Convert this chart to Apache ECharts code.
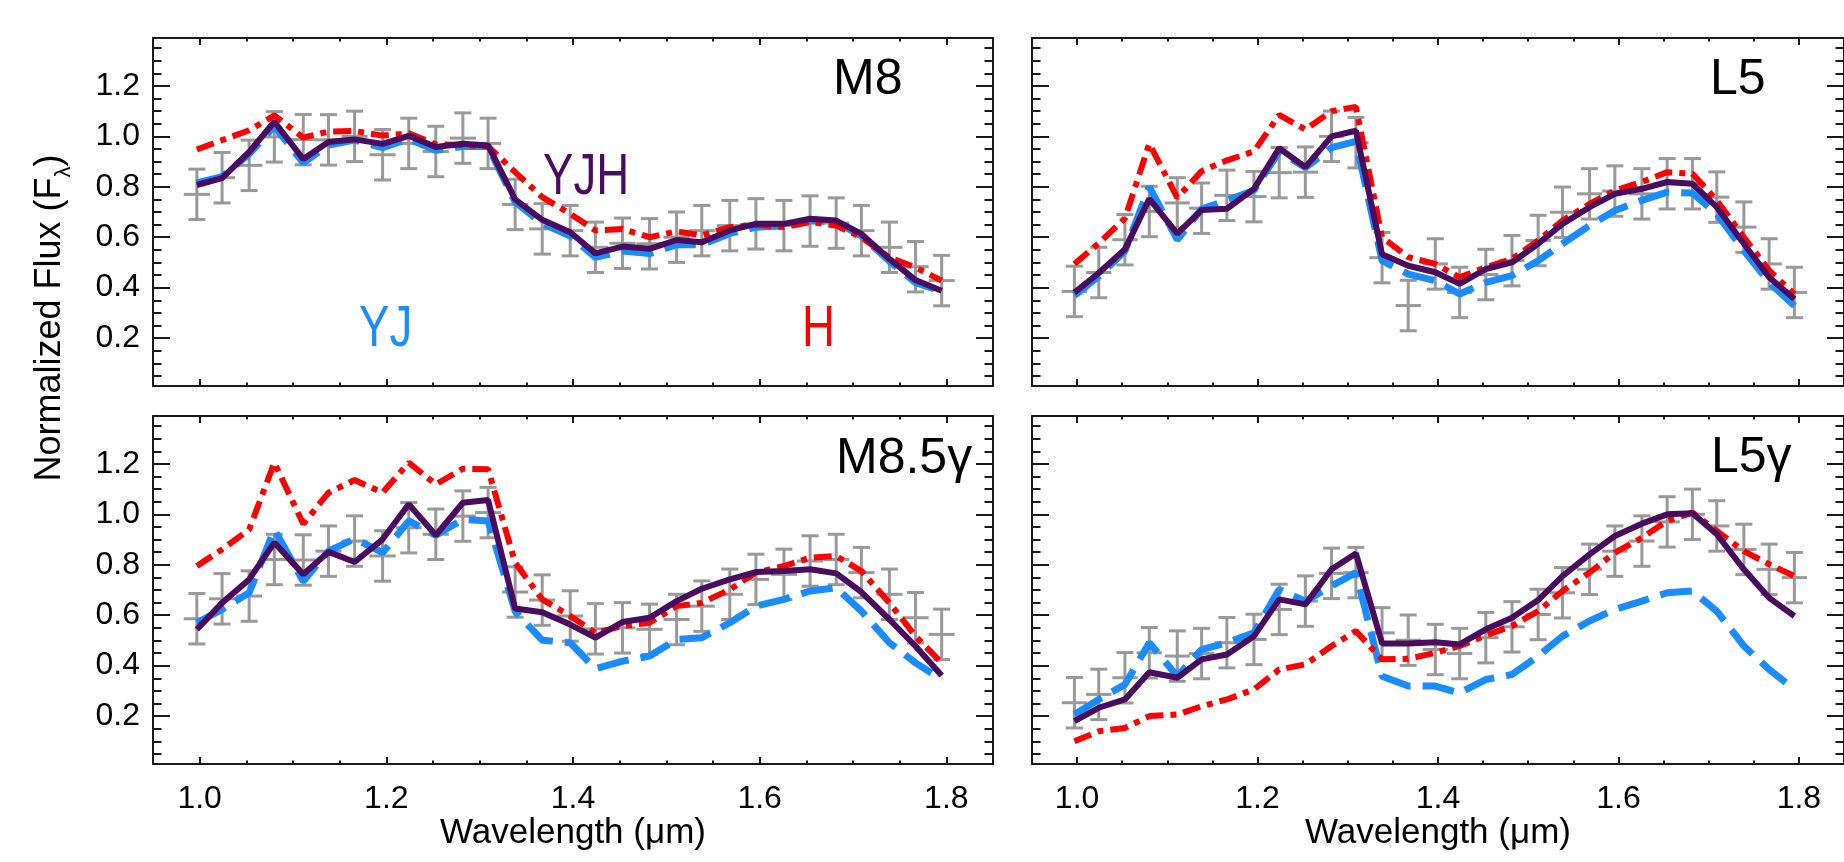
<!DOCTYPE html>
<html>
<head>
<meta charset="utf-8">
<script src="https://cdn.jsdelivr.net/npm/echarts@6/dist/echarts.min.js"></script>
<style>
html,body{margin:0;padding:0;background:#fff;}
#chart{width:1844px;height:862px;}
</style>
</head>
<body>
<div id="chart"></div>
<script>
// wavelength grid (um), same for the data points and the three fits
var wave = [0.997,1.024,1.053,1.080,1.111,1.138,1.166,1.196,1.224,1.253,1.282,1.309,1.338,1.367,1.397,
            1.424,1.453,1.482,1.511,1.538,1.568,1.596,1.626,1.654,1.682,1.709,1.739,1.767,1.795];
var waveErr = 0.014;
var fluxErr = 0.1;

// M8
var m8Obs = [0.770,0.836,0.885,0.998,0.987,0.986,1.000,0.927,0.972,0.940,0.993,0.972,0.730,0.633,0.626,0.560,0.576,0.574,0.600,0.626,0.646,0.653,0.646,0.664,0.656,0.626,0.560,0.483,0.428];
var m8YJH = [0.807,0.834,0.938,1.058,0.910,0.978,0.988,0.970,1.002,0.958,0.971,0.964,0.750,0.669,0.620,0.536,0.563,0.554,0.589,0.580,0.627,0.653,0.653,0.673,0.666,0.613,0.514,0.430,0.388];
var m8YJ  = [0.815,0.840,0.930,1.040,0.895,0.965,0.985,0.955,0.990,0.945,0.960,0.960,0.740,0.655,0.605,0.520,0.545,0.535,0.570,0.570,0.615,0.640,0.645,0.665,0.660,0.605,0.505,0.420,0.385];
var m8H   = [0.948,0.985,1.024,1.083,0.995,1.019,1.021,1.003,1.012,0.968,0.966,0.960,0.858,0.759,0.693,0.627,0.633,0.600,0.623,0.607,0.640,0.649,0.640,0.660,0.646,0.600,0.520,0.480,0.428];
// L5
var l5Obs = [0.385,0.460,0.590,0.702,0.736,0.715,0.766,0.761,0.856,0.858,1.000,0.975,0.519,0.329,0.494,0.381,0.452,0.507,0.587,0.699,0.772,0.783,0.772,0.812,0.812,0.759,0.640,0.494,0.381];
var l5YJH = [0.380,0.458,0.552,0.752,0.614,0.708,0.713,0.792,0.953,0.878,1.000,1.022,0.532,0.487,0.461,0.415,0.474,0.500,0.574,0.653,0.719,0.772,0.792,0.819,0.812,0.719,0.574,0.441,0.355];
var l5YJ  = [0.369,0.445,0.545,0.800,0.590,0.712,0.746,0.786,0.940,0.876,0.955,0.980,0.507,0.454,0.428,0.375,0.421,0.448,0.507,0.574,0.646,0.706,0.746,0.779,0.775,0.693,0.547,0.421,0.328];
var l5H   = [0.494,0.576,0.675,0.971,0.757,0.862,0.905,0.940,1.085,1.027,1.100,1.117,0.600,0.521,0.494,0.441,0.481,0.514,0.587,0.666,0.732,0.785,0.819,0.858,0.852,0.746,0.600,0.468,0.375];
// M8.5 gamma
var m85Obs = [0.586,0.665,0.676,0.821,0.819,0.854,0.894,0.835,0.947,0.921,0.993,1.007,0.692,0.660,0.597,0.546,0.550,0.544,0.583,0.636,0.683,0.742,0.762,0.815,0.821,0.769,0.683,0.590,0.524];
var m85YJH = [0.544,0.649,0.742,0.888,0.762,0.851,0.811,0.901,1.040,0.917,1.046,1.057,0.627,0.612,0.563,0.511,0.573,0.590,0.656,0.705,0.742,0.771,0.775,0.782,0.766,0.692,0.583,0.477,0.361];
var m85YJ  = [0.570,0.623,0.689,0.940,0.735,0.854,0.903,0.848,0.974,0.917,0.980,0.974,0.616,0.501,0.491,0.388,0.418,0.438,0.504,0.511,0.570,0.636,0.663,0.696,0.709,0.616,0.491,0.411,0.345];
var m85H   = [0.795,0.861,0.940,1.205,0.962,1.086,1.136,1.086,1.205,1.119,1.181,1.179,0.808,0.663,0.597,0.530,0.557,0.570,0.636,0.649,0.702,0.769,0.795,0.828,0.835,0.775,0.649,0.517,0.411];
// L5 gamma
var l5gObs = [0.253,0.286,0.352,0.451,0.438,0.448,0.491,0.504,0.623,0.656,0.766,0.769,0.530,0.501,0.464,0.448,0.511,0.554,0.603,0.689,0.782,0.854,0.894,0.970,1.000,0.954,0.861,0.782,0.749];
var l5gYJH = [0.180,0.233,0.266,0.374,0.352,0.425,0.444,0.517,0.663,0.643,0.782,0.845,0.488,0.488,0.493,0.484,0.544,0.590,0.660,0.755,0.841,0.914,0.963,1.000,1.004,0.921,0.782,0.669,0.597];
var l5gYJ  = [0.206,0.266,0.325,0.491,0.358,0.464,0.491,0.530,0.702,0.656,0.716,0.769,0.358,0.319,0.319,0.292,0.345,0.365,0.438,0.517,0.577,0.623,0.656,0.689,0.696,0.616,0.478,0.385,0.306];
var l5gH   = [0.100,0.140,0.153,0.200,0.206,0.239,0.266,0.306,0.385,0.405,0.478,0.537,0.425,0.427,0.451,0.478,0.520,0.557,0.616,0.696,0.769,0.848,0.907,0.974,1.007,0.934,0.854,0.802,0.755];

var xMajor = [1.0,1.2,1.4,1.6,1.8];
var xMinor = [1.05,1.1,1.15,1.25,1.3,1.35,1.45,1.5,1.55,1.65,1.7,1.75];
var yMajor = [0.2,0.4,0.6,0.8,1.0,1.2];
var yMinor = [0.05,0.1,0.15,0.25,0.3,0.35,0.45,0.5,0.55,0.65,0.7,0.75,0.85,0.9,0.95,1.05,1.1,1.15,1.25,1.3,1.35];

var FONT = "'Liberation Sans', Arial, Helvetica, sans-serif";
var AXIS_COLOR = '#1a1a1a';
var PURPLE = '#4a0c5e', BLUE = '#1a8cff', RED = '#ff0000', GREY = '#999999';

var panels = [
	{label:'M8',    obs:m8Obs,  yjh:m8YJH,  yj:m8YJ,  h:m8H,  left:153,  top:38,  xLab:false, yLab:true},
	{label:'L5',    obs:l5Obs,  yjh:l5YJH,  yj:l5YJ,  h:l5H,  left:1032, top:38,  xLab:false, yLab:false},
	{label:'M8.5γ', obs:m85Obs, yjh:m85YJH, yj:m85YJ, h:m85H, left:153,  top:416, xLab:true,  yLab:true},
	{label:'L5γ',   obs:l5gObs, yjh:l5gYJH, yj:l5gYJ, h:l5gH, left:1032, top:416, xLab:true,  yLab:false}
];

var grids = [], xAxes = [], yAxes = [], series = [];

function pairs(arr){
	var out = [];
	for(var k=0;k<wave.length;k++){ out.push([wave[k], arr[k]]); }
	return out;
}

function xAxis(gi, pos, ticks, len, line, lab){
	return {
		gridIndex: gi, type: 'value', min: 0.95, max: 1.85, position: pos,
		axisLine: {show: line, onZero: false, lineStyle: {color: AXIS_COLOR, width: 2}},
		axisTick: {show: true, inside: true, length: len, customValues: ticks, lineStyle: {color: AXIS_COLOR, width: 2}},
		axisLabel: {show: lab, customValues: ticks, margin: 19, fontSize: 32, fontFamily: FONT, color: '#000',
			formatter: function(v){ return v.toFixed(1); }},
		splitLine: {show: false},
		name: lab ? 'Wavelength (μm)' : '', nameLocation: 'middle', nameGap: 50,
		nameTextStyle: {fontSize: 35, fontFamily: FONT, color: '#000'}
	};
}

function yAxis(gi, pos, ticks, len, line, lab){
	return {
		gridIndex: gi, type: 'value', min: 0.01, max: 1.39, position: pos,
		axisLine: {show: line, onZero: false, lineStyle: {color: AXIS_COLOR, width: 2}},
		axisTick: {show: true, inside: true, length: len, customValues: ticks, lineStyle: {color: AXIS_COLOR, width: 2}},
		axisLabel: {show: lab, customValues: ticks, margin: 13, fontSize: 32, fontFamily: FONT, color: '#000',
			formatter: function(v){ return v.toFixed(1); }},
		splitLine: {show: false}
	};
}

function errorBars(params, api){
	var x = api.value(0), y = api.value(1);
	var top = api.coord([x, y + fluxErr]);
	var bot = api.coord([x, y - fluxErr]);
	var lft = api.coord([x - waveErr, y]);
	var rgt = api.coord([x + waveErr, y]);
	var st = {stroke: GREY, lineWidth: 3};
	return {type: 'group', children: [
		{type: 'line', shape: {x1: top[0], y1: top[1], x2: bot[0], y2: bot[1]}, style: st},
		{type: 'line', shape: {x1: top[0]-8.5, y1: top[1], x2: top[0]+8.5, y2: top[1]}, style: st},
		{type: 'line', shape: {x1: bot[0]-8.5, y1: bot[1], x2: bot[0]+8.5, y2: bot[1]}, style: st},
		{type: 'line', shape: {x1: lft[0], y1: lft[1], x2: rgt[0], y2: rgt[1]}, style: st}
	]};
}

panels.forEach(function(p, i){
	grids.push({left: p.left, top: p.top, width: 840, height: 348});
	xAxes.push(xAxis(i, 'bottom', xMajor, 7, true, p.xLab));
	xAxes.push(xAxis(i, 'bottom', xMinor, 3.5, false, false));
	xAxes.push(xAxis(i, 'top', xMajor, 7, true, false));
	xAxes.push(xAxis(i, 'top', xMinor, 3.5, false, false));
	yAxes.push(yAxis(i, 'left', yMajor, 17, true, p.yLab));
	yAxes.push(yAxis(i, 'left', yMinor, 8.5, false, false));
	yAxes.push(yAxis(i, 'right', yMajor, 17, true, false));
	yAxes.push(yAxis(i, 'right', yMinor, 8.5, false, false));

	var xi = 4*i, yi = 4*i;
	series.push({
		type: 'custom', xAxisIndex: xi, yAxisIndex: yi, z: 1,
		renderItem: errorBars, data: pairs(p.obs), encode: {x: 0, y: 1}
	});
	series.push({
		type: 'line', xAxisIndex: xi, yAxisIndex: yi, z: 2, symbol: 'none', data: pairs(p.yj),
		lineStyle: {color: BLUE, width: 7, type: [32, 12]}
	});
	series.push({
		type: 'line', xAxisIndex: xi, yAxisIndex: yi, z: 3, symbol: 'none', data: pairs(p.h),
		lineStyle: {color: RED, width: 6, type: [18, 7, 6, 7]}
	});
	series.push({
		type: 'line', xAxisIndex: xi, yAxisIndex: yi, z: 4, symbol: 'none', data: pairs(p.yjh),
		lineStyle: {color: PURPLE, width: 6}
	});
});

var texts = [
	{type: 'text', x: 833, y: 80, style: {text: 'M8', font: '50px ' + FONT, fill: '#000', verticalAlign: 'middle'}},
	{type: 'text', x: 1710, y: 80, style: {text: 'L5', font: '50px ' + FONT, fill: '#000', verticalAlign: 'middle'}},
	{type: 'text', x: 836, y: 459, style: {text: 'M8.5γ', font: '50px ' + FONT, fill: '#000', verticalAlign: 'middle'}},
	{type: 'text', x: 1711, y: 458, style: {text: 'L5γ', font: '50px ' + FONT, fill: '#000', verticalAlign: 'middle'}},
	// band labels are set in a condensed face in the original
	{type: 'text', x: 543, y: 178, scaleX: 0.8, style: {text: 'YJH', font: '57px ' + FONT, fill: PURPLE, verticalAlign: 'middle'}},
	{type: 'text', x: 359, y: 330, scaleX: 0.8, style: {text: 'YJ', font: '57px ' + FONT, fill: BLUE, verticalAlign: 'middle'}},
	{type: 'text', x: 802, y: 330, scaleX: 0.8, style: {text: 'H', font: '57px ' + FONT, fill: RED, verticalAlign: 'middle'}},
	{type: 'text', x: 50, y: 318, rotation: Math.PI/2,
		style: {text: 'Normalized Flux (F{sub|λ})', font: '36px ' + FONT, fill: '#000', lineHeight: 50,
			align: 'center', verticalAlign: 'middle',
			rich: {sub: {fontSize: 22, fontFamily: FONT, lineHeight: 22, verticalAlign: 'bottom'}}}}
];

var chart = echarts.init(document.getElementById('chart'));
chart.setOption({
	animation: false,
	backgroundColor: '#fff',
	grid: grids,
	xAxis: xAxes,
	yAxis: yAxes,
	series: series,
	graphic: texts
});
</script>
</body>
</html>
